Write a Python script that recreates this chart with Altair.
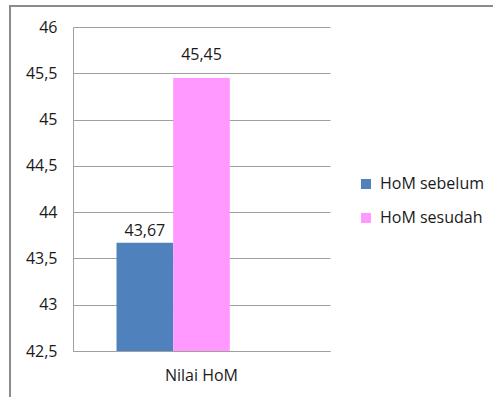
import altair as alt
import pandas as pd

categories = ["Nilai HoM", "Nilai HoM"]
series = ["HoM sebelum", "HoM sesudah"]
values = [43.67, 45.45]
colors = ["#4F81BD", "#FF99FF"]
y_ticks = [42.5, 43, 43.5, 44, 44.5, 45, 45.5, 46]
y_min, y_max = 42.5, 46

df = pd.DataFrame({"kategori": categories, "seri": series, "nilai": values})

FONT = "Open Sans"
FS = 16
W, H = 257, 324
GRID = "#A0A0A0"
TXT = "#1a1a1a"

x = alt.X(
    "kategori:N",
    title=None,
    scale=alt.Scale(paddingInner=0, paddingOuter=0.256),
    axis=alt.Axis(labelAngle=0, ticks=False, domain=True, domainColor=GRID,
                  labelPadding=16, labelFontSize=FS, labelFont=FONT,
                  labelColor=TXT, grid=False),
)
xo = alt.XOffset("seri:N", scale=alt.Scale(domain=series + ["_"], paddingInner=0, paddingOuter=0))
y = alt.Y(
    "nilai:Q",
    scale=alt.Scale(domain=[y_min, y_max], zero=False, nice=False),
    axis=alt.Axis(values=y_ticks, title=None, format=".1~f",
                  labelExpr="replace(datum.label, '.', ',')",
                  ticks=False, labelPadding=16, labelFontSize=FS, labelFont=FONT,
                  labelColor=TXT, domainColor=GRID, gridColor=GRID,
                  grid=True),
)

bars = alt.Chart(df).mark_bar().encode(
    x=x,
    xOffset=xo,
    y=y,
    y2=alt.datum(y_min),
    color=alt.Color(
        "seri:N",
        scale=alt.Scale(domain=series, range=colors),
        legend=alt.Legend(title=None, orient="none", legendX=285, legendY=149,
                          symbolType="square", symbolSize=100, symbolStrokeWidth=0,
                          labelFontSize=FS, labelFont=FONT, labelColor=TXT,
                          rowPadding=18, labelOffset=6),
    ),
)


def label_layer(name, dy):
    return alt.Chart(df).transform_filter(
        alt.datum.seri == name
    ).transform_calculate(
        lbl="replace(format(datum.nilai, '.2f'), '.', ',')"
    ).mark_text(baseline="alphabetic", dy=dy, fontSize=FS, font=FONT, color=TXT).encode(
        x=x, xOffset=xo, y=alt.Y("nilai:Q"), text="lbl:N"
    )


text1 = label_layer(series[0], -7)
text2 = label_layer(series[1], -18)

border = alt.Chart(pd.DataFrame({"k": [0]})).mark_rect(
    fill=None, stroke="#8C8C8C", strokeWidth=2
).encode(
    x=alt.value(-63), x2=alt.value(500), y=alt.value(-21), y2=alt.value(420)
)

chart = alt.layer(border, bars, text1, text2).properties(
    width=W, height=H,
    padding={"left": 73, "top": 27, "right": 163, "bottom": 46},
    autosize=alt.AutoSizeParams(type="none"),
    background="white",
).configure_view(stroke=None)

chart.save("out.html", embed_options={"renderer": "svg", "actions": False})
